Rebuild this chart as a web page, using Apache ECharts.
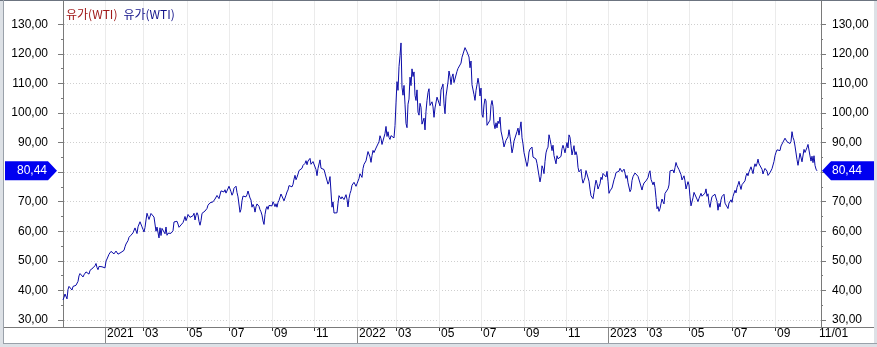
<!DOCTYPE html>
<html><head><meta charset="utf-8">
<script src="https://cdn.jsdelivr.net/npm/echarts@6/dist/echarts.min.js"></script>
<style>html,body{margin:0;padding:0;background:#fff}#c{width:877px;height:347px}</style>
</head><body><div id="c"></div>
<script>
// ---- data ----
const indicatorName = '유가(WTI)';
const seriesName = '유가(WTI)';
const firstDay = '2020-11-02';
const lastDay = '2023-11-01';
const holidays = ['2020-11-26','2020-12-25','2021-01-01','2021-01-18','2021-02-15','2021-04-02','2021-05-31','2021-07-05','2021-09-06','2021-11-25','2021-12-24','2022-01-17','2022-02-21','2022-04-15','2022-05-30','2022-06-20','2022-07-04','2022-09-05','2022-11-24','2022-12-26','2023-01-02','2023-01-16','2023-02-20','2023-04-07','2023-05-29','2023-06-19','2023-07-04','2023-09-04'];
const wti2020 = [36.81,37.66,38.79,38.79,37.14,40.29,41.36,41.45,41.12,40.13,41.34,41.43,41.82,41.74,42.15,43.06,44.91,45.71,45.53,45.34,
44.55,45.28,45.64,46.26,45.76,45.60,45.52,46.78,46.57,46.99,47.62,47.82,48.36,49.10,47.74,47.02,48.12,48.23,47.62,48.00,48.40,48.52];
const wti2021 = [47.62,49.93,50.63,50.83,52.24,52.25,53.21,52.91,53.57,52.36,52.98,53.31,53.13,52.27,52.77,52.61,52.85,52.34,52.20,
53.55,54.76,55.69,56.23,56.85,57.97,58.36,58.68,58.24,59.47,60.05,61.14,60.52,59.24,61.49,61.67,63.22,63.53,61.50,
60.64,59.75,61.28,63.83,66.09,65.05,64.01,64.44,66.02,65.61,65.39,64.80,64.60,60.00,61.42,61.55,57.76,61.18,58.56,60.97,61.56,60.55,59.16,
61.45,58.65,59.33,59.77,59.60,59.32,59.70,60.18,63.15,63.46,63.13,63.38,62.44,61.35,61.43,62.14,61.91,62.94,63.86,65.01,63.58,
64.49,65.69,65.63,64.71,64.90,64.92,65.28,66.08,63.82,65.37,66.27,65.49,63.36,62.05,63.58,66.05,65.76,66.21,66.85,66.32,
67.72,68.83,68.81,69.62,69.23,70.05,69.96,70.29,70.91,70.88,72.12,72.15,71.04,71.64,73.66,73.06,73.08,73.30,74.05,72.91,72.98,73.47,
75.23,75.16,73.37,72.20,72.94,74.56,74.10,75.25,73.13,71.65,71.81,66.42,67.42,70.30,71.91,72.07,71.91,71.65,72.39,73.62,73.95,
71.26,70.56,68.15,69.09,68.28,66.48,68.29,69.25,69.09,68.44,67.29,66.59,65.46,63.50,62.32,65.64,67.54,68.36,67.42,68.74,69.21,68.50,
68.59,69.99,69.29,68.35,69.30,68.14,69.72,70.45,70.46,72.61,72.61,71.97,70.29,70.56,72.23,73.30,73.98,75.45,75.29,74.83,75.03,
75.88,77.62,78.93,77.43,78.30,79.35,80.52,80.64,80.44,81.31,82.28,82.44,82.96,83.87,82.50,83.76,83.76,84.65,82.66,82.81,83.57,
84.05,83.91,80.86,78.81,81.27,81.93,84.15,81.34,81.59,80.79,80.88,80.76,78.36,79.01,75.94,76.75,78.50,78.39,68.15,69.95,66.18,
65.57,66.50,66.26,69.49,72.05,72.36,70.94,71.67,71.29,70.73,70.87,72.38,70.86,68.23,71.12,72.76,73.79,75.57,75.98,76.56,76.99,75.21];
const wti2022 = [76.08,76.99,77.85,79.46,78.90,78.23,81.22,82.64,82.12,83.82,85.43,86.96,86.90,85.14,83.31,85.60,87.35,86.61,86.82,88.15,
88.20,88.26,90.27,92.31,91.32,89.36,89.66,89.88,93.10,95.46,92.07,93.66,91.76,91.07,92.35,92.10,92.81,91.59,95.72,
103.41,110.60,107.67,115.68,119.40,123.70,108.70,106.02,109.33,103.01,96.44,95.04,102.98,104.70,112.12,109.27,114.93,112.34,113.90,105.96,104.24,107.82,100.28,
99.27,103.28,101.96,96.23,96.03,98.26,94.29,100.60,104.25,106.95,108.21,102.56,102.75,103.79,102.07,98.54,101.70,102.02,105.36,104.69,
105.17,102.41,107.81,108.26,109.77,103.09,99.76,105.71,106.13,110.49,114.20,112.40,109.59,112.21,113.23,110.29,109.77,110.33,114.09,115.07,114.67,
115.26,116.87,118.87,118.50,119.41,122.11,121.51,120.67,120.93,118.93,115.31,117.59,109.56,109.52,106.19,104.27,107.62,109.57,111.76,109.78,105.76,
108.43,99.50,98.53,102.73,104.79,104.09,95.84,96.30,95.78,97.59,102.60,104.22,102.26,96.35,94.70,96.70,94.98,97.26,96.42,98.62,
93.89,94.42,90.66,88.54,89.01,90.76,90.50,91.93,94.34,92.09,89.41,86.53,88.11,90.50,90.77,90.23,93.74,94.89,92.52,93.06,97.01,91.64,89.55,
86.61,86.87,86.88,81.94,83.54,86.79,87.78,87.31,88.48,85.10,85.11,85.73,84.45,82.94,83.49,78.74,76.71,78.50,82.15,81.23,79.49,
83.63,86.52,87.76,88.45,92.64,91.13,89.35,87.27,89.11,85.61,85.46,82.82,85.55,84.51,85.05,84.58,85.32,87.91,89.08,87.90,86.53,
88.37,90.00,88.17,92.61,91.79,88.91,85.83,86.47,88.96,85.87,86.92,85.59,81.64,80.08,79.73,80.95,77.94,76.28,77.24,78.20,80.55,
81.22,79.98,76.93,74.25,72.01,71.46,71.02,73.17,75.39,77.28,76.11,74.29,75.19,76.09,78.29,77.49,79.56,79.53,78.96,78.40,80.26];
const wti2023 = [76.93,72.84,73.67,73.77,74.63,75.12,77.41,78.39,79.86,80.18,79.48,80.33,81.31,81.62,80.13,80.15,81.01,79.68,77.90,78.87,
76.41,75.88,73.39,74.11,77.14,78.47,78.06,79.72,80.14,79.06,78.59,78.49,76.34,76.36,73.95,75.39,76.32,75.68,77.05,
77.69,78.16,79.68,80.46,77.58,76.66,75.72,76.68,74.80,71.33,67.61,68.35,66.74,67.64,69.33,70.90,69.96,69.26,72.81,73.20,72.97,74.37,75.67,
80.42,80.71,80.61,80.70,79.74,81.53,83.26,82.16,82.52,80.83,80.86,79.16,77.37,77.87,78.76,77.07,74.30,74.76,76.78,
75.66,71.66,68.60,68.56,71.34,73.16,73.71,72.56,70.87,70.04,71.11,70.86,72.83,71.86,71.69,71.99,72.91,74.34,71.83,72.67,69.46,68.09,
70.10,71.74,72.15,71.74,72.53,71.29,70.17,67.12,69.42,68.27,70.62,71.78,71.19,72.53,69.51,69.16,69.37,67.70,69.56,69.86,70.64,
69.79,71.79,71.80,73.86,72.99,74.83,75.75,76.89,75.42,74.15,75.75,75.35,75.63,77.07,78.74,79.63,78.78,80.09,80.58,81.80,
81.37,79.49,81.55,82.82,81.94,82.92,84.40,82.82,83.19,82.51,80.99,79.38,80.39,81.25,80.72,80.35,78.89,79.05,79.83,80.10,81.16,81.63,83.63,
85.55,86.69,87.54,87.87,87.51,87.29,88.84,88.52,90.16,90.77,91.48,91.20,90.28,89.63,90.03,89.68,90.39,93.68,91.71,90.79,
88.82,89.23,84.22,82.31,82.79,86.38,85.97,83.49,82.91,87.69,86.66,86.66,88.32,89.37,88.75,85.49,83.74,85.39,83.21,85.54,82.31,81.02,
80.44];
const yTicks = [30,40,50,60,70,80,90,100,110,120,130];
const yMinorTicks = [35,45,55,65,75,85,95,105,115,125];
const yMin = 27.63, yMax = 137.88;

// ---- build ----
const values = wti2020.concat(wti2021, wti2022, wti2023);
function buildDates(){
  const out=[]; const hs=new Set(holidays);
  let t=Date.parse(firstDay+'T00:00:00Z'); const end=Date.parse(lastDay+'T00:00:00Z');
  while(t<=end){ const d=new Date(t); const wd=d.getUTCDay(); const s=d.toISOString().slice(0,10);
    if(wd!==0&&wd!==6&&!hs.has(s)) out.push(s); t+=86400000; }
  return out;
}
const dates = buildDates();
const N = values.length;
const lastIdx = N-1;
const monthTicks = [], yearTicks = [];
for(let i=1;i<N && i<dates.length;i++){
  const m = +dates[i].slice(5,7);
  if(dates[i].slice(0,7)!==dates[i-1].slice(0,7) && m%2===1 && i!==lastIdx){
    monthTicks.push(i); if(m===1) yearTicks.push(i);
  }
}
const labelIdx = monthTicks.concat([lastIdx]);
function fmtX(v){
  const i=Math.round(v); const d=dates[i]||'';
  if(i===lastIdx) return d.slice(5,7)+'/'+d.slice(8,10);
  if(d.slice(5,7)==='01') return d.slice(0,4);
  return d.slice(5,7);
}
function fmtY(v){ return v.toFixed(2).replace('.',','); }

const chart = echarts.init(document.getElementById('c'), null, {renderer:'canvas'});
const font = "'Liberation Sans', Arial, sans-serif";
const krFont = "'Noto Sans CJK KR', sans-serif";
const axisGray = '#7a7a7a';
const baseY = {type:'value', min:yMin, max:yMax, scale:true};
chart.setOption({
  animation:false,
  backgroundColor:'#dde1e6',
  title:{left:61, top:3, text:'{a|'+indicatorName+'}{b|'+seriesName+'}',
    textStyle:{fontWeight:'normal', rich:{a:{color:'#a01818',fontSize:12,fontWeight:'normal',fontFamily:krFont},
                     b:{color:'#12128a',fontSize:12,fontWeight:'normal',fontFamily:krFont,padding:[0,0,0,6]}}}},
  grid:{left:58, right:56, top:1, bottom:20, containLabel:false},
  xAxis:[
    {type:'value', min:-5, max:lastIdx+4, position:'bottom',
     axisLine:{show:false},
     axisTick:{show:true, customValues:monthTicks, length:4, lineStyle:{color:'#333'}},
     axisLabel:{show:true, customValues:labelIdx, formatter:fmtX, align:'left', verticalAlign:'top', margin:1, padding:[0,0,0,2],
       fontSize:12, fontFamily:font, color:'#000'},
     splitLine:{show:true, lineStyle:{color:'#ebebeb', width:1}}},
    {type:'value', min:-5, max:lastIdx+4, position:'bottom',
     axisLine:{show:false}, axisLabel:{show:false}, splitLine:{show:false},
     axisTick:{show:true, customValues:yearTicks, length:16, lineStyle:{color:'#888'}}}
  ],
  yAxis:[
    Object.assign({}, baseY, {position:'left',
      axisLine:{show:true, lineStyle:{color:axisGray}},
      axisTick:{show:true, customValues:yTicks, length:5, lineStyle:{color:axisGray}},
      axisLabel:{show:true, customValues:yTicks, formatter:fmtY, margin:10, fontSize:12, fontFamily:font, color:'#000'},
      splitLine:{show:true, lineStyle:{color:'#cfcfcf', type:[1,2]}}}),
    Object.assign({}, baseY, {position:'left', axisLine:{show:false}, axisLabel:{show:false}, splitLine:{show:false},
      axisTick:{show:true, customValues:yMinorTicks, length:2, lineStyle:{color:axisGray}}}),
    Object.assign({}, baseY, {position:'right',
      axisLine:{show:true, lineStyle:{color:axisGray}},
      axisTick:{show:true, customValues:yTicks, length:5, lineStyle:{color:axisGray}},
      axisLabel:{show:true, customValues:yTicks, formatter:fmtY, margin:11, fontSize:12, fontFamily:font, color:'#000'},
      splitLine:{show:false}}),
    Object.assign({}, baseY, {position:'right', axisLine:{show:false}, axisLabel:{show:false}, splitLine:{show:false},
      axisTick:{show:true, customValues:yMinorTicks, length:2, lineStyle:{color:axisGray}}})
  ],
  series:[{
    name:seriesName, type:'line', xAxisIndex:0, yAxisIndex:0,
    data:values.map((v,i)=>[i,v]), showSymbol:false, symbol:'none',
    lineStyle:{color:'#0c0ca8', width:1}, itemStyle:{color:'#0c0ca8'}, z:5
  }]
});

// current value markers (positions from the axis scale)
const lastVal = values[lastIdx];
const py = chart.convertToPixel({yAxisIndex:0}, lastVal);
const W = 877, H = 347, gridL = 58, gridR = W-56, gridB = H-20;
const blue = '#0000f0';
const half = 9.5;
chart.setOption({graphic:[
  {type:'rect', z:-100, silent:true, shape:{x:4,y:1,width:W-7,height:H-5}, style:{fill:'#fff'}},
  {type:'line', z:-99, silent:true, shape:{x1:0,y1:0.5,x2:W,y2:0.5}, style:{stroke:'#6c7480',lineWidth:1}},
  {type:'line', z:-99, silent:true, shape:{x1:3.5,y1:0,x2:3.5,y2:H-4}, style:{stroke:'#9aa1aa',lineWidth:1}},
  {type:'line', z:-99, silent:true, shape:{x1:3,y1:H-3.5,x2:W,y2:H-3.5}, style:{stroke:'#9aa1aa',lineWidth:1}},
  {type:'line', z:50, silent:true, shape:{x1:4,y1:gridB+0.5,x2:W-3,y2:gridB+0.5}, style:{stroke:axisGray,lineWidth:1}},
  {type:'polygon', z:60, silent:true, shape:{points:[[5,py-half],[48,py-half],[gridL-1,py],[48,py+half],[5,py+half]]}, style:{fill:blue}},
  {type:'text', z:61, silent:true, x:47, y:py, style:{text:fmtY(lastVal), fill:'#fff', font:'12px '+font, align:'right', verticalAlign:'middle'}},
  {type:'polygon', z:60, silent:true, shape:{points:[[gridR+1,py],[831,py-half],[874,py-half],[874,py+half],[831,py+half]]}, style:{fill:blue}},
  {type:'text', z:61, silent:true, x:832, y:py, style:{text:fmtY(lastVal), fill:'#fff', font:'12px '+font, align:'left', verticalAlign:'middle'}}
]});
</script></body></html>
